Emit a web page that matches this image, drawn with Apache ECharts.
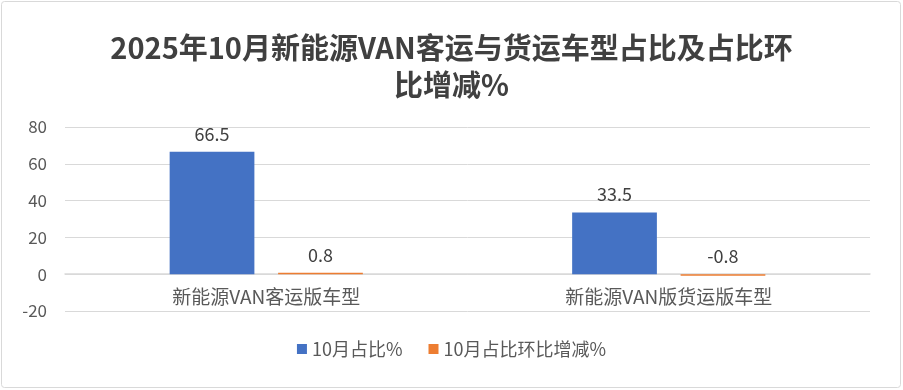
<!DOCTYPE html>
<html><head><meta charset="utf-8">
<script src="https://cdn.jsdelivr.net/npm/echarts@6/dist/echarts.min.js"></script>
<style>html,body{margin:0;padding:0;background:#fff}#c{width:903px;height:390px}</style>
</head><body><div id="c"></div>
<script>
const categories = ['新能源VAN客运版车型', '新能源VAN版货运版车型'];
const shareOct = [66.5, 33.5];
const shareMoM = [0.8, -0.8];
const seriesNames = ['10月占比%', '10月占比环比增减%'];
const titleText = '2025年10月新能源VAN客运与货运车型占比及占比环\n比增减%';

const font = '"Noto Sans CJK SC", "Noto Sans", sans-serif';
const chart = echarts.init(document.getElementById('c'), null, {renderer: 'canvas'});
chart.setOption({
  animation: false,
  backgroundColor: '#fff',
  graphic: [{type: 'rect', shape: {x: 1.5, y: 1.5, width: 899, height: 386, r: 3}, style: {fill: 'none', stroke: '#d9d9d9', lineWidth: 1}, silent: true}],
  title: {
    text: titleText, left: 'center', top: 24,
    textStyle: {fontFamily: font, fontSize: 29, fontWeight: 'bold', color: '#404040', lineHeight: 37}
  },
  legend: {
    bottom: 27, left: 'center', itemWidth: 10, itemHeight: 10, itemGap: 26, icon: 'rect',
    textStyle: {fontFamily: font, fontSize: 18, color: '#595959'},
    data: seriesNames
  },
  grid: {left: 65, right: 33, top: 127, bottom: 79, containLabel: false},
  xAxis: {
    type: 'category', data: categories, position: 'bottom',
    offset: -37,
    axisLine: {onZero: false, lineStyle: {color: '#d9d9d9', width: 1.5}},
    axisTick: {show: false},
    axisLabel: {fontFamily: font, fontSize: 19, color: '#595959', margin: 13}
  },
  yAxis: {
    type: 'value', min: -20, max: 80, interval: 20,
    axisLine: {show: false}, axisTick: {show: false},
    axisLabel: {fontFamily: font, fontSize: 17, color: '#595959', margin: 18},
    splitLine: {lineStyle: {color: '#d9d9d9', width: 1}}
  },
  series: [
    {name: seriesNames[0], type: 'bar', data: shareOct, barGap: '28%', barCategoryGap: '52%',
     itemStyle: {color: '#4472C4'},
     label: {show: true, position: 'top', distance: 9, fontFamily: font, fontSize: 18, color: '#404040'}},
    {name: seriesNames[1], type: 'bar', data: shareMoM,
     itemStyle: {color: '#ED7D31'},
     label: {show: true, position: 'top', distance: 9, fontFamily: font, fontSize: 18, color: '#404040'}}
  ]
});
</script></body></html>
